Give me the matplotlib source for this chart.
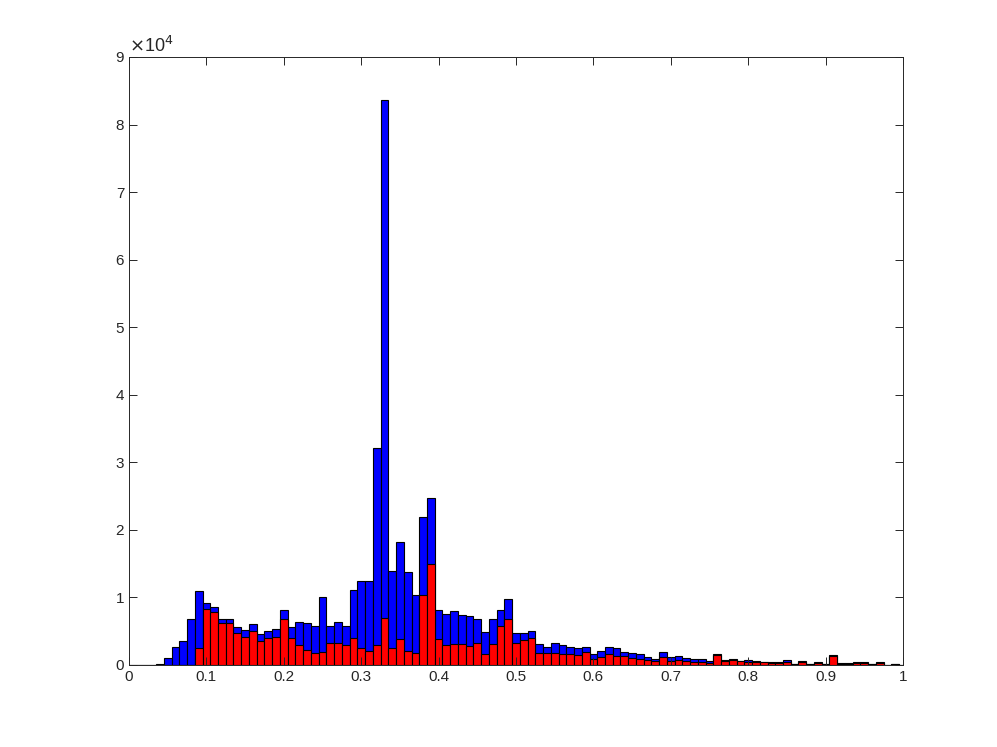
import numpy as np
import matplotlib
matplotlib.use("Agg")
import matplotlib.pyplot as plt
from matplotlib.ticker import FuncFormatter

# bin centres 0.00, 0.01, ... 1.00
bin_centers = np.round(np.arange(101) * 0.01, 2)

# counts per bin (all data)
blue_counts = [
    0, 0, 60, 60, 100, 1000, 2660, 3550, 6750, 10950,
    9120, 8530, 6750, 6800, 5670, 5180, 6010, 4540, 5080, 5280,
    8180, 5570, 6360, 6160, 5820, 10100, 5820, 6360, 5720, 11090,
    12500, 12400, 32100, 83700, 13950, 18200, 13700, 10300, 21900, 24700,
    8090, 7490, 8040, 7440, 7300, 6750, 4880, 6750, 8130, 9760,
    4680, 4680, 4980, 3060, 2610, 3200, 2910, 2660, 2470, 2610,
    1630, 2120, 2660, 2510, 1920, 1730, 1580, 1250, 940, 1920,
    1130, 1330, 1080, 940, 840, 540, 1680, 690, 940, 640,
    690, 590, 440, 440, 380, 690, 200, 590, 200, 490,
    200, 1530, 250, 250, 400, 400, 200, 400, 50, 200,
    0,
]

# counts per bin (subset)
red_counts = [
    0, 0, 0, 0, 0, 0, 0, 0, 0, 2500,
    8280, 7840, 6160, 6160, 4680, 4090, 4980, 3600, 3940, 4090,
    6750, 3940, 2910, 2170, 1820, 1870, 3200, 3250, 2910, 4040,
    2470, 2020, 2910, 6900, 2470, 3800, 2120, 1820, 10350, 15000,
    3800, 3010, 3110, 3060, 2810, 3300, 1580, 3060, 5770, 6750,
    3300, 3650, 4040, 1820, 1730, 1820, 1680, 1680, 1530, 1870,
    840, 1130, 1580, 1380, 1280, 990, 940, 720, 540, 1130,
    590, 690, 590, 440, 490, 300, 1430, 590, 790, 540,
    490, 490, 390, 350, 300, 490, 100, 440, 150, 350,
    100, 1380, 200, 200, 300, 300, 150, 300, 0, 150,
    0,
]

fig = plt.figure(figsize=(9.97, 7.47), dpi=100)
ax = fig.add_axes([0.1294, 0.1098, 0.7763, 0.8139])

plt.rcParams['font.family'] = ['Liberation Sans', 'DejaVu Sans']

ax.bar(bin_centers, blue_counts, width=0.01, color='#0000ff',
       edgecolor='black', linewidth=0.8)
ax.bar(bin_centers, red_counts, width=0.01, color='#ff0000',
       edgecolor='black', linewidth=0.8)

ax.set_xlim(0, 1)
ax.set_ylim(0, 90000)
ax.set_xticks(np.arange(0, 1.01, 0.1))
ax.set_xticklabels(['0', '0.1', '0.2', '0.3', '0.4', '0.5', '0.6',
                    '0.7', '0.8', '0.9', '1'])
ax.set_yticks(np.arange(0, 90001, 10000))
ax.yaxis.set_major_formatter(FuncFormatter(lambda v, p: f"{v / 1e4:g}"))

axis_col = '#262626'
for s in ax.spines.values():
    s.set_color(axis_col)
    s.set_linewidth(0.7)
ax.tick_params(direction='in', top=True, right=True, length=6,
               width=0.7, colors=axis_col, labelsize=11,
               labelcolor=axis_col)
for lab in ax.get_xticklabels() + ax.get_yticklabels():
    lab.set_family(['Liberation Sans', 'DejaVu Sans'])

ax.text(0.0, 1.002, r'$\times$10$^{4}$', transform=ax.transAxes,
        fontsize=13, color=axis_col, va='bottom', ha='left',
        family=['Liberation Sans', 'DejaVu Sans'])

fig.savefig("out.png", dpi=100)
